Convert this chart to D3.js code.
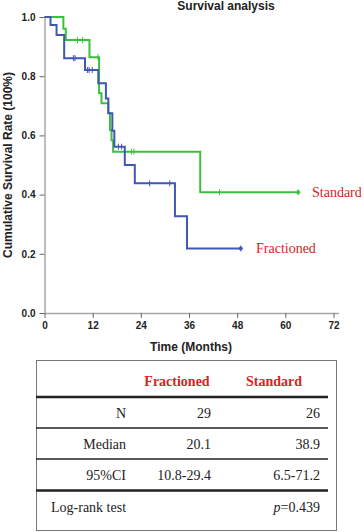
<!DOCTYPE html>
<html>
  <head>
    <meta charset="utf-8">
    <title>Survival analysis</title>
    <script src="https://d3js.org/d3.v7.min.js"></script>
    <style>
      body { margin: 0; background: #fff; }
      svg { display: block; }
      .tick text { font-family: "Liberation Sans", Arial, sans-serif; font-weight: bold; font-size: 10px; fill: #222; }
    </style>
  </head>
  <body>
    <div id="container"></div>
    <script>
      // DATA
      const xTicks = [0, 12, 24, 36, 48, 60, 72];
      const yTicks = [0, 0.2, 0.4, 0.6, 0.8, 1.0];

      // Fractioned: step times and survival after each step
      const fracTimes = [0, 1.5, 3.0, 4.9, 10.1, 13.4, 15.3, 15.9, 16.9, 17.4, 20.0, 22.5, 32.5, 35.5, 48.9];
      const fracSurv  = [1.0, 0.973, 0.939, 0.861, 0.821, 0.776, 0.725, 0.675, 0.616, 0.562, 0.50, 0.438, 0.327, 0.218, 0.218];
      const fracCensor = [7.2, 7.6, 10.7, 11.1, 11.9, 18.4, 19.2, 26.2, 31.2, 48.9];

      // Standard
      const stdTimes = [0, 4.7, 5.3, 11.2, 13.6, 14.2, 15.9, 16.3, 16.7, 17.1, 38.8, 63.2];
      const stdSurv  = [1.0, 0.960, 0.922, 0.864, 0.742, 0.709, 0.676, 0.618, 0.584, 0.545, 0.408, 0.408];
      const stdCensor = [8.2, 9.5, 13.3, 21.7, 22.3, 43.6, 63.2];

      // table
      const colHeads = ["Fractioned", "Standard"];
      const rowLabels = ["N", "Median", "95%CI"];
      const fracStats = ["29", "20.1", "10.8-29.4"];
      const stdStats = ["26", "38.9", "6.5-71.2"];
      const logRankP = "0.439";

      // SET DIMENSIONS
      const width = 364, height = 532;
      const svg = d3.select("#container").append("svg")
        .attr("width", width).attr("height", height);

      const x = d3.scaleLinear().domain([0, 72]).range([44.5, 333.5]);
      const y = d3.scaleLinear().domain([0, 1]).range([313, 17]);

      // AXES
      const yAxis = svg.append("g")
        .attr("transform", "translate(44.5,0)")
        .call(d3.axisLeft(y).tickValues(yTicks).tickFormat(d3.format(".1f")).tickSize(5).tickSizeOuter(0));
      yAxis.select(".domain").attr("stroke", "#a8a8a8").attr("stroke-width", 1.5);
      yAxis.selectAll(".tick line").attr("stroke", "#666");
      yAxis.selectAll(".tick text").attr("x", -9);

      const xAxis = svg.append("g")
        .attr("transform", "translate(0,313)")
        .call(d3.axisBottom(x).tickValues(xTicks).tickSize(5).tickSizeOuter(0));
      xAxis.select(".domain").attr("d", "M44.5,0.5H339").attr("stroke", "#a8a8a8").attr("stroke-width", 1.5);
      xAxis.selectAll(".tick line").attr("stroke", "#666");
      xAxis.selectAll(".tick text").attr("y", 9);

      // TITLES
      svg.append("text")
        .attr("x", 226).attr("y", 10)
        .attr("text-anchor", "middle")
        .style("font-family", "Liberation Sans, Arial, sans-serif")
        .style("font-weight", "bold").style("font-size", "12px").attr("fill", "#222")
        .text("Survival analysis");

      svg.append("text")
        .attr("transform", "translate(12,165) rotate(-90)")
        .attr("text-anchor", "middle")
        .style("font-family", "Liberation Sans, Arial, sans-serif")
        .style("font-weight", "bold").style("font-size", "12px").attr("fill", "#222")
        .text("Cumulative Survival Rate (100%)");

      svg.append("text")
        .attr("x", 191).attr("y", 351)
        .attr("text-anchor", "middle")
        .style("font-family", "Liberation Sans, Arial, sans-serif")
        .style("font-weight", "bold").style("font-size", "12px").attr("fill", "#222")
        .text("Time (Months)");

      // CURVES
      const line = d3.line()
        .x(d => x(d[0])).y(d => y(d[1]))
        .curve(d3.curveStepAfter);

      function survAt(times, surv, t) {
        let s = surv[0];
        times.forEach((tt, i) => { if (tt <= t) s = surv[i]; });
        return s;
      }

      const series = [
        { times: stdTimes, surv: stdSurv, censor: stdCensor, color: "#3cc03c" },
        { times: fracTimes, surv: fracSurv, censor: fracCensor, color: "#4157b5" }
      ];

      series.forEach(s => {
        const pts = s.times.map((t, i) => [t, s.surv[i]]);
        svg.append("path")
          .datum(pts)
          .attr("d", line)
          .attr("fill", "none")
          .attr("stroke", s.color)
          .attr("stroke-width", 2);

        svg.selectAll(null)
          .data(s.censor)
          .enter()
          .append("line")
          .attr("x1", d => x(d)).attr("x2", d => x(d))
          .attr("y1", d => y(survAt(s.times, s.surv, d)) - 3)
          .attr("y2", d => y(survAt(s.times, s.surv, d)) + 3)
          .attr("stroke", s.color)
          .attr("stroke-width", 1);

        // end marker
        const last = pts[pts.length - 1];
        svg.append("circle")
          .attr("cx", x(last[0])).attr("cy", y(last[1]))
          .attr("r", 2).attr("fill", s.color);
      });

      // LEGEND LABELS
      svg.append("text")
        .attr("x", 312).attr("y", 197)
        .style("font-family", "Liberation Serif, Times New Roman, serif")
        .style("font-size", "14px").attr("fill", "#d42424")
        .text("Standard");
      svg.append("text")
        .attr("x", 256).attr("y", 253)
        .style("font-family", "Liberation Serif, Times New Roman, serif")
        .style("font-size", "14px").attr("fill", "#d42424")
        .text("Fractioned");

      // TABLE
      const tbl = svg.append("g");
      tbl.append("rect")
        .attr("x", 36.5).attr("y", 360.5).attr("width", 300).attr("height", 170)
        .attr("fill", "none").attr("stroke", "#777").attr("stroke-width", 1);

      const colRight = [126, 211, 320];
      const headCenter = [177, 274];
      const serif = "Liberation Serif, Times New Roman, serif";

      tbl.selectAll(".head")
        .data(colHeads)
        .enter()
        .append("text")
        .attr("x", (d, i) => headCenter[i]).attr("y", 386)
        .attr("text-anchor", "middle")
        .style("font-family", serif).style("font-weight", "bold").style("font-size", "14px")
        .attr("fill", "#d42424")
        .text(d => d);

      const rowBase = [418, 449, 480];
      rowLabels.forEach((lab, i) => {
        const cells = [lab, fracStats[i], stdStats[i]];
        tbl.selectAll(null)
          .data(cells)
          .enter()
          .append("text")
          .attr("x", (d, j) => colRight[j]).attr("y", rowBase[i])
          .attr("text-anchor", "end")
          .style("font-family", serif).style("font-size", "14px").attr("fill", "#222")
          .text(d => d);
      });

      tbl.append("text")
        .attr("x", 51).attr("y", 512)
        .style("font-family", serif).style("font-size", "14px").attr("fill", "#222")
        .text("Log-rank test");
      const pt = tbl.append("text")
        .attr("x", 320).attr("y", 512)
        .attr("text-anchor", "end")
        .style("font-family", serif).style("font-size", "14px").attr("fill", "#222");
      pt.append("tspan").style("font-style", "italic").text("p");
      pt.append("tspan").text("=" + logRankP);

      // row rules
      const rules = [[397, 2.5], [428, 1.5], [459, 1.5], [490.5, 2.5]];
      tbl.selectAll(".rule")
        .data(rules)
        .enter()
        .append("line")
        .attr("x1", 36).attr("x2", 328)
        .attr("y1", d => d[0]).attr("y2", d => d[0])
        .attr("stroke", "#222")
        .attr("stroke-width", d => d[1]);
    </script>
  </body>
</html>
